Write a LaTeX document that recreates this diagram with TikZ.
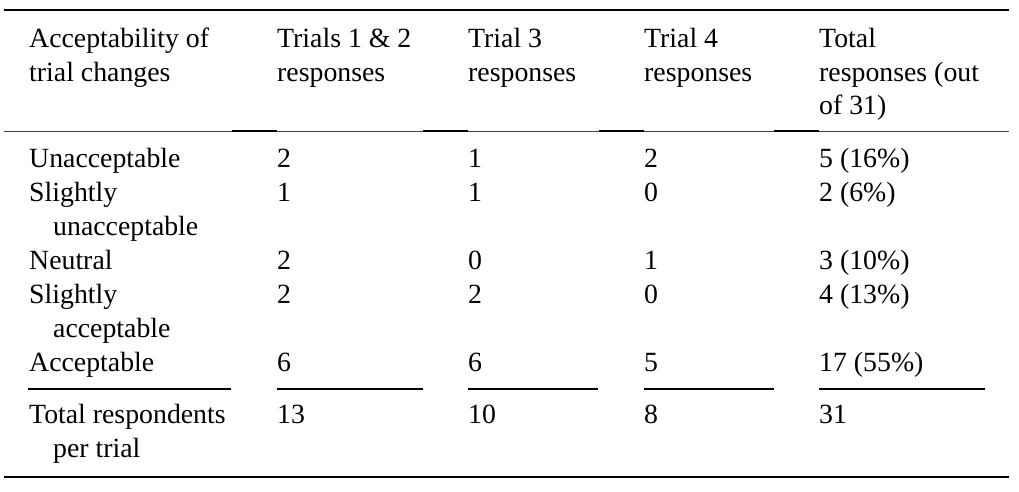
\documentclass[tikz,border=0pt]{standalone}
\usepackage{fontspec}
\setmainfont{Liberation Serif}
\usepackage{tikz}

\tikzset{
  cell/.style={anchor=base west, inner sep=0pt,
    font=\fontsize{27.8}{34}\selectfont},
  rule/.style={line width=1.4pt},
  subrule/.style={line width=1.2pt}
}

\begin{document}
\begin{tikzpicture}[x=1pt, y=-1pt]
  \useasboundingbox (0,0) rectangle (1019,492);

  % header
  \node [cell] (h1a) at (29,48) {Acceptability of};
  \node [cell] (h1b) at (29,82) {trial changes};
  \node [cell] (h2a) at (277,48) {Trials 1 \& 2};
  \node [cell] (h2b) at (277,82) {responses};
  \node [cell] (h3a) at (468,48) {Trial 3};
  \node [cell] (h3b) at (468,82) {responses};
  \node [cell] (h4a) at (644,48) {Trial 4};
  \node [cell] (h4b) at (644,82) {responses};
  \node [cell] (h5a) at (819,48) {Total};
  \node [cell] (h5b) at (819,82) {responses (out};
  \node [cell] (h5c) at (819,115) {of 31)};

  % row labels
  \node [cell] (unacc) at (29,167) {Unacceptable};
  \node [cell] (slun) at (29,201) {Slightly};
  \node [cell] (slun2) at (53,235) {unacceptable};
  \node [cell] (neut) at (29,269) {Neutral};
  \node [cell] (slac) at (29,303) {Slightly};
  \node [cell] (slac2) at (53,337) {acceptable};
  \node [cell] (acc) at (29,371) {Acceptable};
  \node [cell] (tot) at (29,423) {Total respondents};
  \node [cell] (tot2) at (53,457) {per trial};

  \foreach \y/\a/\b/\c/\d [count=\i] in {167/2/1/2/5 (16\%), 201/1/1/0/2 (6\%),
      269/2/0/1/3 (10\%), 303/2/2/0/4 (13\%), 371/6/6/5/17 (55\%), 423/13/10/8/31} {
    \node [cell] (r\i a) at (277,\y) {\a};
    \node [cell] (r\i b) at (468,\y) {\b};
    \node [cell] (r\i c) at (644,\y) {\c};
    \node [cell] (r\i d) at (819,\y) {\d};
  }

  % rules
  \draw [rule] (4,10) -- (1009,10);
  \draw [line width=1pt, black!75] (4,131) -- (1009,131);
  \foreach \l/\r in {232/277, 423/468, 599/644, 774/819}
    \draw [line width=1.2pt] (\l,131) -- (\r,131);
  \foreach \l/\r in {28/231, 277/423, 468/598, 644/774, 819/985}
    \draw [subrule] (\l,389) -- (\r,389);
  \draw [rule] (4,477) -- (1009,477);
\end{tikzpicture}
\end{document}
